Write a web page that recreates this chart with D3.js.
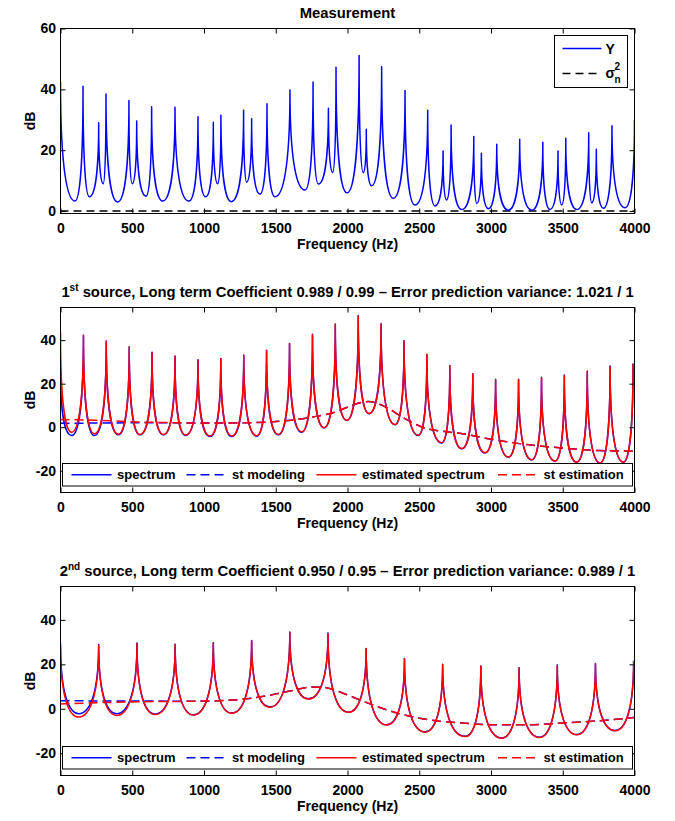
<!DOCTYPE html>
<meta charset="utf-8">
<script src="https://d3js.org/d3.v7.min.js"></script>
<style>
body { margin: 0; background: #fff; }
svg text { font-family: "Liberation Sans", Arial, sans-serif; font-weight: bold; }
</style>
<div id="chart"></div>
<script>

// ---- values ----
const xTicks = [0, 500, 1000, 1500, 2000, 2500, 3000, 3500, 4000];

// Measurement: peaks and the valleys between them
const mPeakHz = [0, 157, 266, 317, 477, 531, 635, 798, 958, 1065, 1118, 1276, 1332, 1439, 1599, 1760, 1867, 1920, 2081, 2131, 2238, 2401, 2559, 2666, 2722, 2880, 2933, 3040, 3200, 3361, 3467, 3521, 3681, 3734, 3843, 4000];
const mPeakDb = [42.4, 41, 29, 38.5, 36.3, 29.6, 34.3, 34.1, 31, 29.2, 31.5, 33.1, 30.3, 35.3, 39.8, 42.4, 33.8, 47.3, 51.1, 26.9, 47.4, 39.6, 33.1, 19.7, 28.3, 24.5, 19, 22, 23.6, 22.6, 19.7, 23.9, 25.7, 20.3, 28, 30];
const mValleyHz = [101, 201, 298, 398, 500, 596, 712, 895, 1012, 1095, 1190, 1297, 1390, 1495, 1704, 1797, 1897, 1997, 2110, 2168, 2319, 2470, 2610, 2690, 2796, 2901, 2982, 3121, 3284, 3411, 3493, 3598, 3702, 3783, 3934];
const mValleyDb = [3.3, 4.7, 9, 3, 9, 4.9, 3.3, 3.3, 4.7, 9, 3.1, 9.5, 5.6, 4.7, 6.9, 8.9, 12.7, 6, 12.6, 8.3, 4.2, 2, 1.7, 3.6, 0.5, 2.5, 0.8, 0.3, 0.3, 0.5, 2, 0.5, 2.7, 0.9, 1.1];
const noiseHz = [0, 4000];
const noiseDb = [0, 0];

// 1st source
const s1PeakHz = [0, 160, 319, 479, 638, 798, 958, 1117, 1277, 1436, 1596, 1756, 1915, 2075, 2234, 2394, 2553, 2713, 2873, 3032, 3192, 3352, 3511, 3671, 3830, 3990];
const s1BluePeakDb = [26, 42.3, 39.6, 37, 34.4, 32.7, 31, 31.6, 33.2, 35.4, 38.5, 42.7, 47.4, 51.3, 47.5, 39.7, 33.5, 28.4, 24.6, 22, 22, 22.9, 24, 25.8, 28.1, 29.3];
const s1RedPeakDb = [43.4, 42.1, 39.4, 36.8, 34.2, 32.5, 30.8, 31.4, 33, 35.2, 38.3, 42.5, 47.2, 51, 47.3, 39.5, 33.3, 28.2, 24.4, 21.8, 21.8, 22.7, 23.8, 25.6, 27.9, 29.1];
const s1ValleyHz = [78, 236, 403, 554, 717, 872, 1042, 1193, 1367, 1518, 1681, 1837, 1995, 2150, 2331, 2493, 2656, 2796, 2958, 3121, 3284, 3446, 3597, 3760, 3922];
const s1BlueValleyDb = [-3.8, -3.8, -3.5, -3.5, -3.5, -3.8, -4.3, -4.3, -4.1, -3.5, -2.3, -0.3, 3.1, 6.2, 1.1, -3.8, -7.2, -9.9, -11.8, -13.8, -15, -15.6, -16.1, -16.5, -16.1];
const s1RedValleyDb = [-2.3, -3.0, -3.2, -3.4, -3.4, -3.6, -4.0, -4.0, -3.9, -3.3, -2.1, -0.2, 3.2, 6.3, 1.2, -3.7, -7.1, -9.8, -11.7, -13.7, -14.9, -15.5, -16, -16.4, -16];
const s1EnvHz = [0, 250, 500, 750, 1000, 1250, 1500, 1750, 1925, 2030, 2145, 2260, 2390, 2560, 2680, 2800, 3000, 3250, 3500, 3750, 4000];
const s1ModDb = [1.8, 1.9, 2, 2, 1.9, 2, 2.6, 4.6, 7.2, 10, 11.8, 9.5, 4.3, -0.8, -2, -3, -5.5, -8, -9.6, -10.7, -11];
const s1EstDb = [3.5, 3.2, 2.5, 2.1, 1.9, 2, 2.6, 4.6, 7.2, 10, 11.8, 9.5, 4.3, -0.8, -2, -3, -5.5, -8, -9.6, -10.7, -11];

// 2nd source
const s2PeakHz = [0, 266, 533, 799, 1065, 1332, 1598, 1864, 2130, 2397, 2663, 2929, 3196, 3462, 3728, 3994];
const s2BluePeakDb = [29.4, 28.9, 29.6, 29, 29.8, 30.7, 34.5, 34.1, 27.1, 22.6, 20, 19.2, 18.5, 19.7, 20.4, 21.6];
const s2RedPeakDb = [27.9, 28.5, 29.4, 28.9, 29.6, 30.5, 34.3, 33.9, 27, 22.5, 19.9, 19.1, 18.4, 19.6, 20.3, 21.5];
const s2ValleyHz = [128, 391, 659, 926, 1193, 1460, 1727, 2006, 2273, 2540, 2819, 3075, 3337, 3597, 3864];
const s2BlueValleyDb = [-2.2, -2.2, -2.4, -2.7, -1.9, 0.8, 4.5, -1.5, -7.2, -10.4, -12.4, -13.1, -12.8, -11.6, -9.8];
const s2RedValleyDb = [-3.7, -3.0, -2.6, -2.8, -2.0, 0.7, 4.4, -1.6, -7.3, -10.5, -12.5, -13.2, -12.9, -11.7, -9.9];
const s2EnvHz = [0, 500, 1000, 1150, 1300, 1450, 1600, 1750, 1850, 1970, 2100, 2230, 2360, 2480, 2630, 2800, 3000, 3250, 3500, 3750, 4000];
const s2ModDb = [3.6, 3.5, 3.4, 3.8, 4.5, 6, 8, 9.8, 9.5, 7, 3.6, 0.5, -2.2, -4, -5.5, -6.4, -7.2, -7.2, -6.4, -5.4, -3.9];
const s2EstDb = [2.2, 3.1, 3.5, 3.8, 4.5, 6, 8, 9.8, 9.5, 7, 3.6, 0.5, -2.2, -4, -5.5, -6.4, -7.2, -7.2, -6.4, -5.4, -3.9];

// ---- drawing ----
const width = 675, height = 821;
const blue = "#0000ff", red = "#ff0000";

const svg = d3.select("#chart")
  .append("svg")
    .attr("width", width)
    .attr("height", height);

const x = d3.scaleLinear().domain([0, 4000]).range([60.5, 634.5]);
const xMid = (x.range()[0] + x.range()[1]) / 2;

// resonance-like curve: flat at valleys, vertical at peaks
function curveCusp(context) {
  let prev = null;
  return {
    areaStart() {}, areaEnd() {},
    lineStart() { prev = null; },
    lineEnd() {},
    point(px, py) {
      px = +px; py = +py;
      if (!prev) context.moveTo(px, py);
      else {
        const dx = px - prev[0], dy = py - prev[1];
        if (py < prev[1]) context.bezierCurveTo(prev[0] + 0.5 * dx, prev[1], px, prev[1] + 0.25 * dy, px, py);
        else context.bezierCurveTo(prev[0], prev[1] + 0.75 * dy, prev[0] + 0.5 * dx, py, px, py);
      }
      prev = [px, py];
    }
  };
}

function joinPeaks(pHz, pDb, vHz, vDb) {
  const pts = pHz.map((f, i) => ({hz: f, db: pDb[i]}))
    .concat(vHz.map((f, i) => ({hz: f, db: vDb[i]})));
  return pts.sort((a, b) => a.hz - b.hz);
}
function pairs(hz, db) { return hz.map((f, i) => ({hz: f, db: db[i]})); }

function makePanel(id, top, bottom, yDomain, yTicks) {
  const y = d3.scaleLinear().domain(yDomain).range([bottom, top]);
  svg.append("clipPath").attr("id", "clip" + id)
    .append("rect")
      .attr("x", x.range()[0]).attr("y", top)
      .attr("width", x.range()[1] - x.range()[0]).attr("height", bottom - top);
  const g = svg.append("g");
  const plot = g.append("g").attr("clip-path", `url(#clip${id})`);
  return {y, g, plot, top, bottom, yTicks};
}

function drawLine(p, data, color, curve, dash) {
  p.plot.append("path")
    .datum(data)
    .attr("fill", "none")
    .attr("stroke", color)
    .attr("stroke-width", 1.5)
    .attr("stroke-linejoin", "round")
    .attr("stroke-dasharray", dash || null)
    .attr("d", d3.line().x(d => x(d.hz)).y(d => p.y(d.db)).curve(curve));
}

function drawAxes(p) {
  const fmt = d => String(d);
  const gx = p.g.append("g").attr("transform", `translate(0,${p.bottom})`)
    .call(d3.axisBottom(x).tickValues(xTicks).tickSize(-5).tickSizeOuter(0).tickPadding(9.5).tickFormat(fmt));
  const gt = p.g.append("g").attr("transform", `translate(0,${p.top})`)
    .call(d3.axisTop(x).tickValues(xTicks).tickSize(-5).tickSizeOuter(0).tickFormat(""));
  const gy = p.g.append("g").attr("transform", `translate(${x.range()[0]},0)`)
    .call(d3.axisLeft(p.y).tickValues(p.yTicks).tickSize(-5).tickSizeOuter(0).tickPadding(4.5).tickFormat(fmt));
  const gr = p.g.append("g").attr("transform", `translate(${x.range()[1]},0)`)
    .call(d3.axisRight(p.y).tickValues(p.yTicks).tickSize(-5).tickSizeOuter(0).tickFormat(""));
  [gx, gt, gy, gr].forEach(a => { a.select(".domain").remove(); a.attr("font-size", 14); });
  gx.selectAll("text").attr("fill", "#000");
  gy.selectAll("text").attr("fill", "#000");

  p.g.append("rect")
    .attr("x", x.range()[0]).attr("y", p.top)
    .attr("width", x.range()[1] - x.range()[0]).attr("height", p.bottom - p.top)
    .attr("fill", "none").attr("stroke", "#000");

  p.g.append("text")
    .attr("x", xMid).attr("y", p.bottom + 35.5)
    .attr("text-anchor", "middle").attr("font-size", 14)
    .text("Frequency (Hz)");
  p.g.append("text")
    .attr("transform", `translate(35,${(p.top + p.bottom) / 2}) rotate(-90)`)
    .attr("text-anchor", "middle").attr("font-size", 14)
    .text("dB");
}

function drawTitle(p, ord, sup, rest) {
  const t = p.g.append("text")
    .attr("x", xMid).attr("y", p.top - 11)
    .attr("text-anchor", "middle").attr("font-size", 14.8);
  t.append("tspan").text(ord);
  if (sup) {
    t.append("tspan").attr("font-size", 10).attr("dy", -5.5).text(sup);
    t.append("tspan").attr("dy", 5.5).text(rest);
  }
}

function sourceLegend(p) {
  const items = [
    {label: "spectrum", color: blue, dash: null, at: 9},
    {label: "st modeling", color: blue, dash: "9,5", at: 124},
    {label: "estimated spectrum", color: red, dash: null, at: 254},
    {label: "st estimation", color: red, dash: "9,5", at: 435.5}
  ];
  const top = p.bottom - 29, h = 22.5, left = 62.5;
  p.g.append("rect")
    .attr("x", left).attr("y", top).attr("width", 570).attr("height", h)
    .attr("fill", "#fff").attr("stroke", "#000");
  const cy = top + h / 2;
  items.forEach(it => {
    const cx = left + it.at;
    p.g.append("line")
      .attr("x1", cx).attr("x2", cx + 40).attr("y1", cy).attr("y2", cy)
      .attr("stroke", it.color).attr("stroke-width", 1.5)
      .attr("stroke-dasharray", it.dash);
    p.g.append("text")
      .attr("x", cx + 45.5).attr("y", cy + 4.5)
      .attr("font-size", 13).text(it.label);
  });
}

// panel 1: measurement
const p1 = makePanel(1, 28.5, 213.5, [-0.8, 60], [0, 20, 40, 60]);
drawLine(p1, pairs(noiseHz, noiseDb), "#000", d3.curveLinear, "8,5");
drawLine(p1, joinPeaks(mPeakHz, mPeakDb, mValleyHz, mValleyDb), blue, curveCusp);
drawAxes(p1);
drawTitle(p1, "Measurement");

const leg = p1.g.append("g");
leg.append("rect")
  .attr("x", 554.5).attr("y", 35.5).attr("width", 73).attr("height", 52)
  .attr("fill", "#fff").attr("stroke", "#000");
leg.append("line").attr("x1", 562.5).attr("x2", 601.5).attr("y1", 48.5).attr("y2", 48.5)
  .attr("stroke", blue).attr("stroke-width", 1.5);
leg.append("text").attr("x", 605.5).attr("y", 53.5).attr("font-size", 14).text("Y");
leg.append("line").attr("x1", 562.5).attr("x2", 601.5).attr("y1", 73.5).attr("y2", 73.5)
  .attr("stroke", "#000").attr("stroke-width", 1.5).attr("stroke-dasharray", "8,5");
const sig = leg.append("text").attr("x", 605.5).attr("y", 78).attr("font-size", 14);
sig.append("tspan").text("σ");
sig.append("tspan").attr("x", 614.5).attr("dy", -8).attr("font-size", 10).text("2");
sig.append("tspan").attr("x", 614.5).attr("dy", 13).attr("font-size", 10).text("n");

// panel 2: 1st source
const p2 = makePanel(2, 307.5, 492.5, [-30, 55], [-20, 0, 20, 40]);
drawLine(p2, joinPeaks(s1PeakHz, s1BluePeakDb, s1ValleyHz, s1BlueValleyDb), blue, curveCusp);
drawLine(p2, pairs(s1EnvHz, s1ModDb), blue, d3.curveMonotoneX, "9,5");
drawLine(p2, joinPeaks(s1PeakHz, s1RedPeakDb, s1ValleyHz, s1RedValleyDb), red, curveCusp);
drawLine(p2, pairs(s1EnvHz, s1EstDb), red, d3.curveMonotoneX, "9,5");
drawAxes(p2);
drawTitle(p2, "1", "st", " source, Long term Coefficient 0.989 / 0.99 \u2013 Error prediction variance: 1.021 / 1");
sourceLegend(p2);

// panel 3: 2nd source
const p3 = makePanel(3, 586.5, 775.5, [-30, 55], [-20, 0, 20, 40]);
drawLine(p3, joinPeaks(s2PeakHz, s2BluePeakDb, s2ValleyHz, s2BlueValleyDb), blue, curveCusp);
drawLine(p3, pairs(s2EnvHz, s2ModDb), blue, d3.curveMonotoneX, "9,5");
drawLine(p3, joinPeaks(s2PeakHz, s2RedPeakDb, s2ValleyHz, s2RedValleyDb), red, curveCusp);
drawLine(p3, pairs(s2EnvHz, s2EstDb), red, d3.curveMonotoneX, "9,5");
drawAxes(p3);
drawTitle(p3, "2", "nd", " source, Long term Coefficient 0.950 / 0.95 \u2013 Error prediction variance: 0.989 / 1");
sourceLegend(p3);

</script>
